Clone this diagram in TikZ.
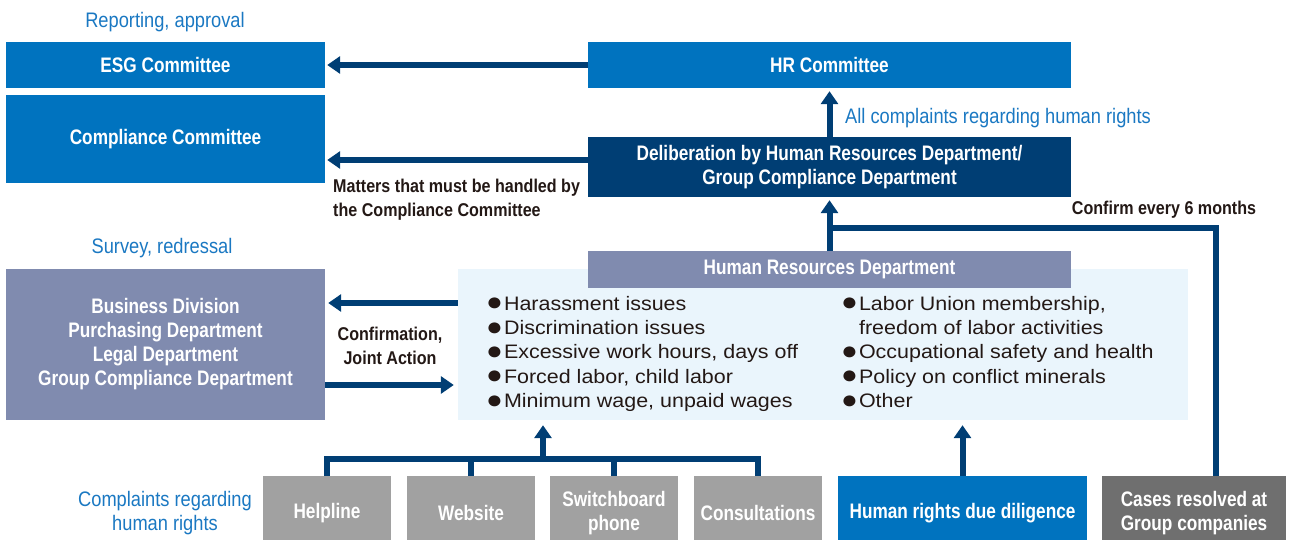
\documentclass[tikz,border=0pt]{standalone}
\usepackage{fontspec}
\setmainfont{Liberation Sans}
\newfontfamily\condfont{Liberation Sans}[FakeStretch=0.82]
\newfontfamily\notefont{Liberation Sans}[FakeStretch=0.87]
\newfontfamily\listfont{Liberation Sans}[FakeStretch=1.1]
\usepackage{xcolor}
\usepackage{graphicx}
\usetikzlibrary{arrows.meta, calc, positioning}

\definecolor{boxblue}{HTML}{0073BF}
\definecolor{navy}{HTML}{003E74}
\definecolor{lavender}{HTML}{808BAF}
\definecolor{paleblue}{HTML}{EAF5FC}
\definecolor{lightgray}{HTML}{A1A1A1}
\definecolor{darkgray}{HTML}{6F6F6F}
\definecolor{labelblue}{HTML}{1A78C2}
\definecolor{inktext}{HTML}{231815}

\newcommand{\blt}{\raisebox{-0.05ex}{\scalebox{1.3}{●}}\hspace{1pt}}

\begin{document}
\begin{tikzpicture}[x=1pt, y=-1pt,
  every node/.style={align=center, inner sep=0pt},
  box/.style={rectangle, text=white, font=\condfont\bfseries\fontsize{21}{24}\selectfont},
  note/.style={text=labelblue, font=\notefont\fontsize{21}{24}\selectfont},
  remark/.style={text=inktext, font=\notefont\bfseries\fontsize{18.5}{24}\selectfont},
  items/.style={text=inktext, align=left, anchor=north west, font=\listfont\fontsize{19.5}{24.3}\selectfont},
  conn/.style={draw=navy, line width=6pt},
  arr/.style={conn, -{Triangle[width=17pt, length=13pt]}}]
\useasboundingbox (0,0) rectangle (1292,540);

% committees
\node[box, fill=boxblue, minimum width=319pt, minimum height=46pt] (esg) at (165.5,65) {ESG Committee};
\node[box, fill=boxblue, minimum width=319pt, minimum height=88pt] (comp) at (165.5,139) {Compliance Committee};
\node[box, fill=boxblue, minimum width=483pt, minimum height=46pt] (hrc) at (829.5,65) {HR Committee};
\node[box, fill=navy, minimum width=483pt, minimum height=60pt] (delib) at (829.5,167) {Deliberation by Human Resources Department/\\Group Compliance Department};

% departments
\node[box, fill=lavender, minimum width=319pt, minimum height=151pt] (biz) at (165.5,344.5) {Business Division\\Purchasing Department\\Legal Department\\Group Compliance Department};
\node[fill=paleblue, minimum width=730pt, minimum height=151pt] (hrbox) at (823,344.5) {};
\node[box, fill=lavender, minimum width=483pt, minimum height=37pt] (hrdept) at (829.5,269.5) {Human Resources Department};
\node[items] (left) at (486,296) {\blt Harassment issues\\\blt Discrimination issues\\\blt Excessive work hours, days off\\\blt Forced labor, child labor\\\blt Minimum wage, unpaid wages};
\node[items] (right) at (841,296) {\blt Labor Union membership,\\\phantom{\blt}freedom of labor activities\\\blt Occupational safety and health\\\blt Policy on conflict minerals\\\blt Other};

% sources
\node[box, fill=lightgray, minimum width=128pt, minimum height=74pt] (help) at (327,513) {Helpline};
\node[box, fill=lightgray, minimum width=128pt, minimum height=74pt] (web) at (471,513) {Website};
\node[box, fill=lightgray, minimum width=128pt, minimum height=74pt] (phone) at (614,513) {Switchboard\\phone};
\node[box, fill=lightgray, minimum width=128pt, minimum height=74pt] (cons) at (758,513) {Consultations};
\node[box, fill=boxblue, minimum width=249pt, minimum height=74pt] (hrdd) at (962.5,513) {Human rights due diligence};
\node[box, fill=darkgray, minimum width=184pt, minimum height=74pt] (cases) at (1194,513) {Cases resolved at\\Group companies};

% labels
\node[note] (lbl1) at (165,22) {Reporting, approval};
\node[note] (lbl2) at (162,248) {Survey, redressal};
\node[note] (lbl3) at (165,513) {Complaints regarding\\human rights};
\node[note, anchor=west] (lbl4) at (845,118) {All complaints regarding human rights};
\node[remark, align=left, anchor=north west] (lbl5) at (333,179) {Matters that must be handled by\\the Compliance Committee};
\node[remark] (lbl6) at (1164,210) {Confirm every 6 months};
\node[remark] (lbl7) at (390,346) {Confirmation,\\Joint Action};

% connectors
\draw[arr, shorten >=2pt] (hrc.west) -- (esg.east);
\coordinate (matters) at ([yshift=7pt]delib.west);
\draw[arr, shorten >=2pt] (matters) -- (comp.east |- matters);
\draw[arr, shorten >=3pt] (delib.north) -- (hrc.south);
\draw[arr, shorten >=3pt] (hrdept.north) -- (delib.south);
\coordinate (conf) at (829,228);
\draw[conn] (conf) -| ([xshift=22pt]cases.north);
\draw[arr, shorten >=3pt] (hrbox.west |- 0,303) -- (biz.east |- 0,303);
\draw[arr, shorten >=4pt] (biz.east |- 0,385) -- (hrbox.west |- 0,385);
\coordinate (bus) at (543,459);
\draw[conn] (help.north) |- (cons.north |- bus) -- (cons.north);
\draw[conn] (web.north) -- (web.north |- bus);
\draw[conn] (phone.north) -- (phone.north |- bus);
\draw[arr, shorten >=5pt] (bus) -- (bus |- hrbox.south);
\draw[arr, shorten >=5pt] (hrdd.north) -- (hrdd.north |- hrbox.south);
\end{tikzpicture}
\end{document}
